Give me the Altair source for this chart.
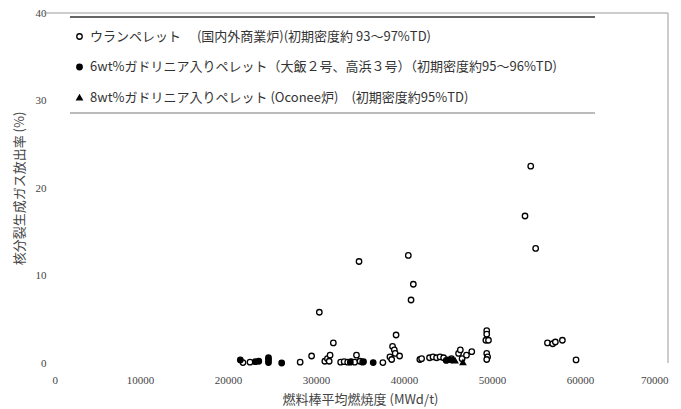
import altair as alt
import pandas as pd

series_names = [
    "ウランペレット　 (国内外商業炉)(初期密度約 93～97%TD)",
    "6wt%ガドリニア入りペレット（大飯２号、高浜３号）（初期密度約95～96%TD)",
    "8wt%ガドリニア入りペレット (Oconee炉)　(初期密度約95%TD)",
]

uranium_x = [54400, 53750, 54960, 40490, 34890, 41060, 40800, 30380,
             31970, 39100, 38700, 38900, 39000, 38400, 39500, 38600,
             49400, 49400, 49300, 49600, 49400, 49500, 49400,
             56300, 56900, 57200, 58000, 59550,
             21700, 22500, 28200, 29500, 31000, 31300, 31600, 31500,
             32800, 33200, 33600, 34000, 34400, 34600, 35000, 35300, 37600,
             41800, 42000, 42900, 43300, 43700, 44100, 44500, 45400,
             46200, 46600, 47100, 47700, 46400]
uranium_y = [22.5, 16.8, 13.1, 12.3, 11.6, 9.0, 7.2, 5.8,
             2.3, 3.2, 1.9, 1.5, 1.1, 0.7, 0.8, 0.4,
             3.7, 3.3, 2.6, 2.6, 1.1, 0.7, 0.4,
             2.3, 2.2, 2.4, 2.6, 0.35,
             0.05, 0.1, 0.1, 0.8, 0.2, 0.5, 0.9, 0.2,
             0.1, 0.15, 0.1, 0.15, 0.1, 0.9, 0.2, 0.1, 0.05,
             0.4, 0.5, 0.6, 0.7, 0.6, 0.7, 0.6, 0.5,
             1.1, 0.5, 0.9, 1.3, 1.5]

gd6_x = [21400, 23100, 23500, 24600, 24600, 24600, 26100, 33900, 35400, 36500, 44800, 45400]
gd6_y = [0.35, 0.15, 0.2, 0.6, 0.35, 0.05, 0.0, 0.1, 0.15, 0.05, 0.3, 0.35]

gd8_x = [45000, 45800, 46700]
gd8_y = [0.4, 0.3, 0.1]

x_ticks = [0, 10000, 20000, 30000, 40000, 50000, 60000, 70000]
y_ticks = [0, 10, 20, 30, 40]

rows = []
for xs, ys, name in [(uranium_x, uranium_y, series_names[0]),
                     (gd6_x, gd6_y, series_names[1]),
                     (gd8_x, gd8_y, series_names[2])]:
    for a, b in zip(xs, ys):
        rows.append({"burnup": a, "fgr": b, "series": name})
df = pd.DataFrame(rows)

W, H = 616, 350
label_font = "Liberation Serif"
jp_font = "Noto Sans CJK JP"
text_col = "#444444"

legend_def = alt.Legend(
    title=None, orient="none", legendX=21, legendY=17, direction="vertical",
    labelFont=jp_font, labelFontSize=13, labelColor="#333333", labelLimit=650,
    symbolSize=30, symbolStrokeWidth=1.3, symbolStrokeColor="black",
    rowPadding=16.5, labelOffset=4, padding=0,
)

points = alt.Chart(df).mark_point(filled=True, strokeWidth=1.3, size=30, opacity=1).encode(
    x=alt.X("burnup:Q", scale=alt.Scale(domain=[0, 70000], nice=False),
            axis=alt.Axis(values=x_ticks, title="燃料棒平均燃焼度 (MWd/t)", format="d",
                          grid=False, domain=False, ticks=False,
                          labelFont=label_font, labelFontSize=11, labelColor=text_col,
                          labelPadding=11, titleFont=jp_font, titleFontSize=13,
                          titleFontWeight="normal", titleColor=text_col, titlePadding=8)),
    y=alt.Y("fgr:Q", scale=alt.Scale(domain=[0, 40], nice=False),
            axis=alt.Axis(values=y_ticks, title="核分裂生成ガス放出率 (%)",
                          grid=False, domain=False, ticks=False,
                          labelFont=label_font, labelFontSize=11, labelColor=text_col,
                          labelPadding=6, titleFont=jp_font, titleFontSize=13,
                          titleFontWeight="normal", titleColor=text_col, titlePadding=9)),
    shape=alt.Shape("series:N", scale=alt.Scale(domain=series_names,
                                                range=["circle", "circle", "triangle-up"]),
                    legend=legend_def),
    fill=alt.Fill("series:N", scale=alt.Scale(domain=series_names,
                                              range=["white", "black", "black"]),
                  legend=legend_def),
    stroke=alt.Stroke("series:N", scale=alt.Scale(domain=series_names,
                                                  range=["black", "black", "black"]),
                      legend=legend_def),
)

frame_top = alt.Chart().mark_rule(color="#9a9a9a", strokeWidth=1).encode(
    x=alt.value(-8), x2=alt.value(W), y=alt.value(0))
frame_right = alt.Chart().mark_rule(color="#9a9a9a", strokeWidth=1).encode(
    x=alt.value(W), y=alt.value(0), y2=alt.value(H))
leg_top = alt.Chart().mark_rule(color="#333333", strokeWidth=1.6).encode(
    x=alt.value(18), x2=alt.value(543), y=alt.value(4))
leg_bottom = alt.Chart().mark_rule(color="#777777", strokeWidth=1).encode(
    x=alt.value(18), x2=alt.value(543), y=alt.value(100))

chart = alt.layer(frame_top, frame_right, leg_top, leg_bottom, points).properties(
    width=W, height=H,
    autosize=alt.AutoSizeParams(type="none"),
    padding={"left": 44, "top": 5, "right": 5, "bottom": 46},
    background="white",
).configure_view(stroke=None)

chart.save("out.html", embed_options={"renderer": "svg", "actions": False})
